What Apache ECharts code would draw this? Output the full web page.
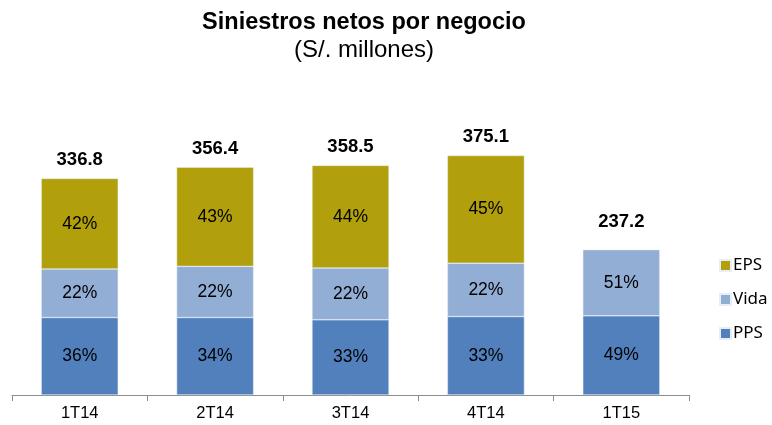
<!DOCTYPE html>
<html>
<head>
<meta charset="utf-8">
<script src="https://cdn.jsdelivr.net/npm/echarts@6/dist/echarts.min.js"></script>
<style>
  html, body { margin: 0; padding: 0; background: #fff; }
  #chart { width: 772px; height: 425px; }
</style>
</head>
<body>
<div id="chart"></div>
<script>
// -- data --
let periodos = ['1T14', '2T14', '3T14', '4T14', '1T15'];
let totales = ['336.8', '356.4', '358.5', '375.1', '237.2'];

// S/. millones
let pps = [120.6, 120.6, 117.0, 122.1, 123.2];
let vida = [75.5, 79.6, 80.7, 83.1, 103.0];
let eps = [140.9, 154.4, 159.6, 167.4, null];

// percent labels as printed in the bars
let ppsPct = ['36%', '34%', '33%', '33%', '49%'];
let vidaPct = ['22%', '22%', '22%', '22%', '51%'];
let epsPct = ['42%', '43%', '44%', '45%', ''];

let colores = {PPS: '#5180BC', Vida: '#93AED5', EPS: '#B19F0C'};

let stackTop = periodos.map(function (p, i) {
  return (pps[i] || 0) + (vida[i] || 0) + (eps[i] || 0);
});

function pctLabel(arr) {
  return {
    show: true,
    position: 'inside',
    color: '#000',
    fontSize: 17.5,
    fontFamily: 'Liberation Sans',
    formatter: function (p) { return arr[p.dataIndex]; }
  };
}

function seg(name, data, pct) {
  return {
    name: name,
    type: 'bar',
    stack: 'total',
    barWidth: 77,
    data: data,
    itemStyle: {color: colores[name], borderColor: '#e8eef7', borderWidth: 0.5},
    label: pctLabel(pct)
  };
}

let option = {
  animation: false,
  title: {
    text: 'Siniestros netos por negocio',
    subtext: '(S/. millones)',
    left: 359,
    textAlign: 'center',
    top: 6,
    itemGap: 3,
    textStyle: {fontFamily: 'Liberation Sans', fontSize: 23.5, fontWeight: 'bold', color: '#000'},
    subtextStyle: {fontFamily: 'Liberation Sans', fontSize: 24, color: '#000'}
  },
  legend: {
    orient: 'vertical',
    left: 714,
    top: 252,
    itemWidth: 11,
    itemHeight: 11,
    itemGap: 17,
    icon: 'rect',
    data: ['EPS', 'Vida', 'PPS'],
    textStyle: {fontFamily: 'Noto Sans', fontSize: 17, lineHeight: 17, color: '#000', padding: [0, 0, 0, -3]}
  },
  grid: {left: 12, right: 83, top: 138, bottom: 30},
  xAxis: {
    type: 'category',
    data: periodos,
    axisLine: {lineStyle: {color: '#8c8c8c'}},
    axisTick: {show: true, length: 6, lineStyle: {color: '#8c8c8c'}},
    axisLabel: {color: '#000', fontSize: 16.5, fontFamily: 'Liberation Sans', margin: 10}
  },
  yAxis: {
    type: 'value',
    min: 0,
    max: 400,
    show: false,
    splitLine: {show: false}
  },
  series: [
    seg('PPS', pps, ppsPct),
    seg('Vida', vida, vidaPct),
    seg('EPS', eps, epsPct),
    {
      name: 'Total',
      type: 'bar',
      barWidth: 77,
      barGap: '-100%',
      silent: true,
      z: 1,
      // last bar's total sits a bit higher in the original
      data: stackTop.map(function (v, i) {
        return i === periodos.length - 1 ? {value: v, label: {distance: 18}} : v;
      }),
      itemStyle: {color: 'rgba(0,0,0,0)'},
      label: {
        show: true,
        position: 'top',
        distance: 9,
        color: '#000',
        fontSize: 18.5,
        fontWeight: 'bold',
        fontFamily: 'Liberation Sans',
        formatter: function (p) { return totales[p.dataIndex]; }
      }
    }
  ]
};

let myChart = echarts.init(document.getElementById('chart'));
myChart.setOption(option);
</script>
</body>
</html>
